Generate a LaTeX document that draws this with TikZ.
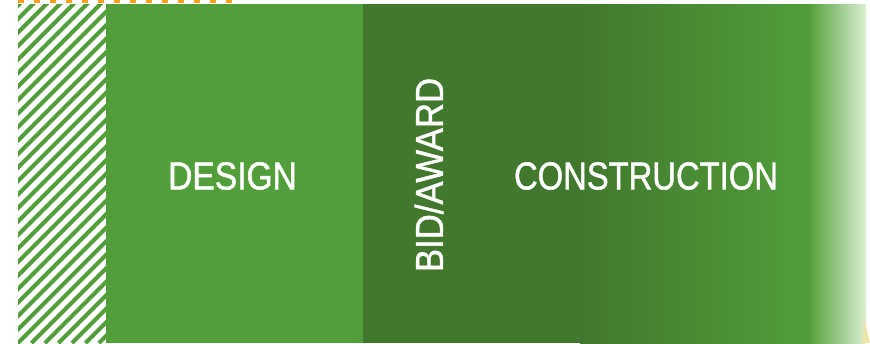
\documentclass[tikz,border=0pt]{standalone}
\usepackage{fontspec}
\setmainfont{Liberation Sans}
\newfontfamily\labelfont{Liberation Sans}[FakeBold=1.3]
\definecolor{designgreen}{RGB}{82,158,58}
\definecolor{bidgreen}{RGB}{65,120,46}
\definecolor{lightA}{RGB}{88,162,62}
\definecolor{lightM}{RGB}{138,200,112}
\definecolor{lightB}{RGB}{218,239,210}
\definecolor{dashorange}{RGB}{246,160,20}
\definecolor{paleyellow}{RGB}{238,228,170}
\tikzset{
  phaselabel/.style={text=white, inner sep=0pt, font=\labelfont\fontsize{39}{40}\selectfont},
}
\begin{document}
\begin{tikzpicture}[x=1pt,y=-1pt]
\useasboundingbox (0,0) rectangle (870,343);
\fill[white] (0,0) rectangle (870,343);
% orange dashed top edge
\draw[dashorange, line width=3pt, dash pattern=on 6pt off 10pt] (18,1.5) -- (234,1.5);
% hatched strip
\begin{scope}
  \clip (18,4) rectangle (106,343);
  \foreach \k in {-30,...,10}{
    \draw[designgreen, line width=4pt] (18+\k*13.5,343) -- ++(360,-360);
  }
\end{scope}
% design block
\fill[designgreen] (106,4) rectangle (363.5,343);
% bid/award + construction
\fill[bidgreen] (363,4) rectangle (581,343);
\shade[left color=bidgreen, right color=designgreen] (580,4) rectangle (811,343);
\shade[left color=lightA, middle color=lightM, right color=lightB] (810,4) rectangle (866,343);
% small sliver bottom right
\fill[paleyellow] (864,318) -- (870,343) -- (862,343) -- cycle;
% labels
\node[phaselabel, xscale=0.86] (design) at (232.5,176) {DESIGN};
\node[phaselabel, rotate=90, xscale=0.89] (bid) at (429,175) {BID/AWARD};
\node[phaselabel, xscale=0.84] (construction) at (646,176) {CONSTRUCTION};
\end{tikzpicture}
\end{document}
